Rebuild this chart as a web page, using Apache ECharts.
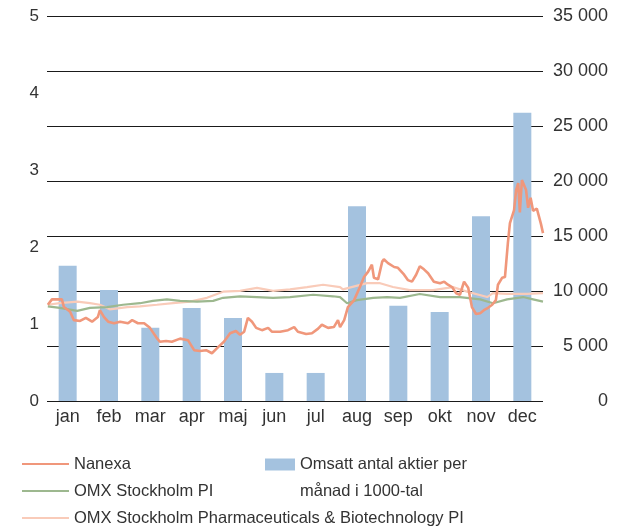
<!DOCTYPE html>
<html>
<head>
<meta charset="utf-8">
<script src="https://cdn.jsdelivr.net/npm/echarts@6/dist/echarts.min.js"></script>
<style>
  html, body { margin: 0; padding: 0; background: #fff; }
  #main { width: 634px; height: 528px; }
</style>
</head>
<body>
<div id="main"></div>
<script>
// kategorier och omsättning (tusental aktier)
var months = ["jan", "feb", "mar", "apr", "maj", "jun", "jul", "aug", "sep", "okt", "nov", "dec"];
var volume = [12300, 10100, 6650, 8450, 7550, 2550, 2550, 17700, 8650, 8100, 16800, 26200];

// kurser: [månad (0-12), värde]
var nanexa = [
  [0.02, 1.25], [0.12, 1.32], [0.22, 1.32], [0.36, 1.32], [0.41, 1.22], [0.56, 1.16],
  [0.65, 1.05], [0.80, 1.04], [0.94, 1.08], [1.09, 1.03], [1.23, 1.09], [1.28, 1.18],
  [1.38, 1.09], [1.48, 1.03], [1.62, 1.01], [1.77, 1.03], [1.96, 1.01], [2.06, 1.05],
  [2.20, 1.01], [2.35, 1.01], [2.49, 0.95], [2.64, 0.83], [2.73, 0.77], [2.88, 0.78],
  [3.02, 0.77], [3.22, 0.81], [3.41, 0.79], [3.56, 0.66], [3.70, 0.65], [3.85, 0.66],
  [3.99, 0.62], [4.14, 0.70], [4.28, 0.77], [4.43, 0.88], [4.57, 0.91], [4.67, 0.86],
  [4.77, 0.90], [4.86, 1.08], [4.96, 1.03], [5.06, 0.95], [5.20, 0.92], [5.35, 0.95],
  [5.44, 0.90], [5.64, 0.90], [5.83, 0.92], [5.98, 0.96], [6.07, 0.90], [6.27, 0.87],
  [6.41, 0.88], [6.56, 0.94], [6.65, 0.99], [6.80, 0.95], [6.94, 0.96], [7.04, 1.05],
  [7.09, 0.96], [7.19, 1.05], [7.28, 1.22], [7.43, 1.31], [7.57, 1.48], [7.67, 1.61],
  [7.77, 1.68], [7.86, 1.77], [7.91, 1.60], [8.01, 1.58], [8.11, 1.81], [8.15, 1.84],
  [8.25, 1.79], [8.40, 1.74], [8.49, 1.73], [8.64, 1.64], [8.73, 1.57], [8.83, 1.55],
  [8.93, 1.64], [9.02, 1.75], [9.12, 1.71], [9.22, 1.66], [9.36, 1.55], [9.51, 1.53],
  [9.61, 1.55], [9.70, 1.51], [9.80, 1.48], [9.90, 1.40], [9.99, 1.38], [10.09, 1.55],
  [10.19, 1.47], [10.28, 1.22], [10.38, 1.13], [10.48, 1.14], [10.57, 1.18], [10.67, 1.21],
  [10.77, 1.25], [10.86, 1.31], [10.91, 1.51], [11.01, 1.60], [11.08, 1.61], [11.15, 2.05],
  [11.20, 2.31], [11.30, 2.48], [11.35, 2.74], [11.40, 2.83], [11.44, 2.45], [11.49, 2.87],
  [11.59, 2.74], [11.64, 2.51], [11.70, 2.64], [11.76, 2.47], [11.85, 2.50], [11.90, 2.40],
  [11.95, 2.30], [12.00, 2.18]
];
var omxPI = [
  [0.02, 1.23], [0.31, 1.21], [0.73, 1.17], [1.04, 1.21], [1.45, 1.22], [1.84, 1.25],
  [2.25, 1.27], [2.56, 1.30], [2.90, 1.32], [3.22, 1.30], [3.63, 1.29], [4.02, 1.30],
  [4.26, 1.34], [4.67, 1.36], [5.08, 1.35], [5.47, 1.34], [5.88, 1.35], [6.44, 1.38],
  [6.92, 1.36], [7.09, 1.35], [7.26, 1.27], [7.50, 1.31], [7.89, 1.34], [8.23, 1.35],
  [8.54, 1.34], [9.02, 1.39], [9.51, 1.35], [9.99, 1.35], [10.48, 1.32], [10.79, 1.27],
  [11.13, 1.32], [11.52, 1.35], [11.76, 1.32], [12.00, 1.29]
];
var omxPharma = [
  [0.02, 1.25], [0.31, 1.27], [0.73, 1.29], [1.04, 1.27], [1.28, 1.25], [1.52, 1.19],
  [1.94, 1.22], [2.25, 1.23], [2.66, 1.25], [3.05, 1.27], [3.46, 1.29], [3.87, 1.34],
  [4.26, 1.42], [4.67, 1.43], [5.08, 1.47], [5.47, 1.43], [5.88, 1.45], [6.29, 1.48],
  [6.68, 1.51], [7.09, 1.48], [7.16, 1.45], [7.74, 1.53], [8.06, 1.53], [8.37, 1.48],
  [8.78, 1.44], [9.34, 1.44], [9.82, 1.48], [10.16, 1.42], [10.65, 1.35], [10.79, 1.40],
  [11.13, 1.39], [11.61, 1.39], [12.00, 1.40]
];

var leftTicks = [0, 5, 1];          // min, max, steg
var rightTicks = [0, 35000, 5000];  // min, max, steg

var font = "Liberation Sans";
var textColor = "#333";

var myChart = echarts.init(document.getElementById("main"));

var option = {
  animation: false,
  textStyle: { fontFamily: font },
  grid: { left: 47, right: 91, top: 16, bottom: 127 },
  legend: [
    {
      orient: "vertical",
      left: 22,
      top: 455,
      height: 100,
      padding: 0,
      itemWidth: 47,
      itemHeight: 2,
      itemGap: 9,
      icon: "rect",
      textStyle: { fontSize: 16.5, color: textColor, fontFamily: font, lineHeight: 18 },
      data: ["Nanexa", "OMX Stockholm PI", "OMX Stockholm Pharmaceuticals & Biotechnology PI"]
    },
    {
      left: 265,
      top: 424,
      padding: 0,
      itemWidth: 30,
      itemHeight: 12,
      icon: "rect",
      textStyle: { fontSize: 16.5, color: textColor, fontFamily: font, lineHeight: 27 },
      // tom första rad så att rutan hamnar i höjd med första textraden
      formatter: function () { return " \nOmsatt antal aktier per\nmånad i 1000-tal"; },
      data: ["Omsatt antal aktier per månad i 1000-tal"]
    }
  ],
  xAxis: [
    {
      type: "category",
      data: months,
      axisLine: { show: false },
      axisTick: { show: false },
      axisLabel: { fontSize: 18, color: textColor, margin: 7 }
    },
    { type: "value", min: 0, max: 12, show: false }
  ],
  yAxis: [
    {
      type: "value",
      position: "left",
      min: leftTicks[0],
      max: leftTicks[1],
      interval: leftTicks[2],
      splitLine: { show: false },
      axisLine: { show: false },
      axisTick: { show: false },
      axisLabel: { fontSize: 17, color: textColor, margin: 8 }
    },
    {
      type: "value",
      position: "right",
      min: rightTicks[0],
      max: rightTicks[1],
      interval: rightTicks[2],
      splitLine: { show: true, lineStyle: { color: "#1a1a1a", width: 1 } },
      axisLine: { show: false },
      axisTick: { show: false },
      axisLabel: {
        fontSize: 18,
        color: textColor,
        align: "right",
        margin: 65,
        formatter: function (v) { return String(v).replace(/\B(?=(\d{3})+(?!\d))/g, " "); }
      }
    }
  ],
  series: [
    {
      name: "Omsatt antal aktier per månad i 1000-tal",
      type: "bar",
      xAxisIndex: 0,
      yAxisIndex: 1,
      barWidth: 18,
      itemStyle: { color: "#a4c2df" },
      data: volume,
      z: 1
    },
    {
      name: "OMX Stockholm Pharmaceuticals & Biotechnology PI",
      type: "line",
      xAxisIndex: 1,
      yAxisIndex: 0,
      showSymbol: false,
      lineStyle: { color: "#f9cbb9", width: 2.2 },
      itemStyle: { color: "#f9cbb9" },
      data: omxPharma,
      z: 2
    },
    {
      name: "OMX Stockholm PI",
      type: "line",
      xAxisIndex: 1,
      yAxisIndex: 0,
      showSymbol: false,
      lineStyle: { color: "#9db88f", width: 2.2 },
      itemStyle: { color: "#9db88f" },
      data: omxPI,
      z: 3
    },
    {
      name: "Nanexa",
      type: "line",
      xAxisIndex: 1,
      yAxisIndex: 0,
      showSymbol: false,
      lineStyle: { color: "#f0977b", width: 2.6 },
      itemStyle: { color: "#f0977b" },
      data: nanexa,
      z: 4
    }
  ]
};

// rita diagrammet
myChart.setOption(option);
</script>
</body>
</html>
